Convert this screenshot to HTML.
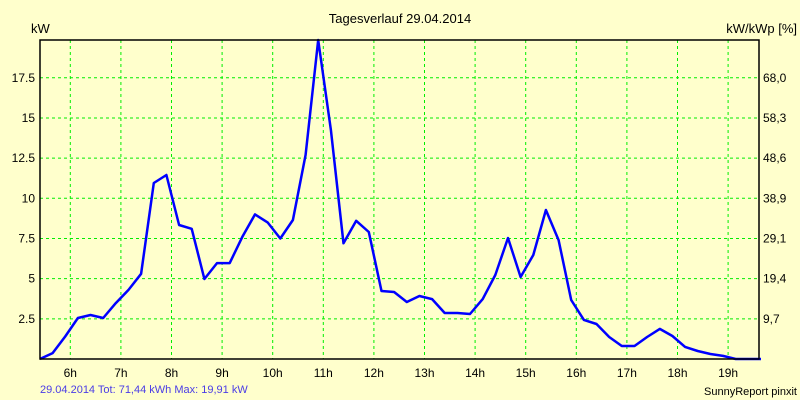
<!DOCTYPE html>
<html><head><meta charset="utf-8"><style>
body{margin:0;background:#ffffcc;}
svg{display:block;font-family:"Liberation Sans",Arial,sans-serif;}
</style></head><body>
<svg id="chart" width="800" height="400" viewBox="0 0 800 400">
<rect x="0" y="0" width="800" height="400" fill="#ffffcc"/>
<text x="400" y="23" text-anchor="middle" font-size="13" fill="#000">Tagesverlauf 29.04.2014</text>
<text x="31" y="33" font-size="13" fill="#000">kW</text>
<text x="797" y="33" text-anchor="end" font-size="13" fill="#000">kW/kWp [%]</text>
<g id="grid"></g>
<g id="series"></g>
<rect x="40" y="40" width="719" height="319" fill="none" stroke="#000" stroke-width="1.5"/>
<g id="labels"></g>
<text x="40" y="393" font-size="11" fill="#4a3ce6">29.04.2014 Tot: 71,44 kWh Max: 19,91 kW</text>
<text x="797" y="395" text-anchor="end" font-size="11" fill="#000">SunnyReport pinxit</text>
</svg>
<script>
const hourTicks = [6,7,8,9,10,11,12,13,14,15,16,17,18,19];
const yTicks = [2.5,5,7.5,10,12.5,15,17.5];
const yTickLabels = ["2.5","5","7.5","10","12.5","15","17.5"];
const y2TickLabels = ["9,7","19,4","29,1","38,9","48,6","58,3","68,0"];
const startHour = 5.4;
const stepHours = 0.25;
const power = [0,0.37,1.4,2.55,2.74,2.55,3.48,4.3,5.3,10.95,
11.45,8.34,8.1,4.98,5.97,5.97,7.6,9.0,8.5,7.5,
8.65,12.7,19.85,14.25,7.2,8.6,7.9,4.23,4.17,3.55,
3.92,3.73,2.86,2.86,2.8,3.73,5.23,7.53,5.1,6.47,
9.27,7.4,3.67,2.43,2.18,1.37,0.81,0.81,1.37,1.87,
1.43,0.75,0.5,0.31,0.19,0,0,0];
const NS="http://www.w3.org/2000/svg";
const xS = h => 70.3 + (h-6)*50.6;
const yS = v => 359 - v*16.07;
const grid=document.getElementById('grid'), labels=document.getElementById('labels'), series=document.getElementById('series');
function mk(tag, attrs, parent){const e=document.createElementNS(NS,tag);for(const k in attrs)e.setAttribute(k,attrs[k]);parent.appendChild(e);return e;}
hourTicks.forEach(h=>{
  const x=xS(h);
  const l=mk('line',{x1:x,x2:x,y1:40,y2:359,stroke:'#00ee00','stroke-dasharray':'3,3','stroke-width':1},grid);
  
  
  const t=mk('text',{x:x,y:377,'text-anchor':'middle','font-size':12,fill:'#000'},labels);
  t.textContent=h+'h';
  
  
});
yTicks.forEach((v,i)=>{
  const y=yS(v);
  const l=mk('line',{x1:40,x2:759,y1:y,y2:y,stroke:'#00ee00','stroke-dasharray':'3,3','stroke-width':1},grid);
  
  
  const t=mk('text',{x:35,y:y+4,'text-anchor':'end','font-size':12,fill:'#000'},labels);
  t.textContent=yTickLabels[i];
  
  
  const t2=mk('text',{x:763,y:y+4,'font-size':12,fill:'#000'},labels);
  t2.textContent=y2TickLabels[i];
  
  
});
const pts=power.map((v,i)=>xS(startHour+i*stepHours).toFixed(1)+','+yS(v).toFixed(1)).join(' ');
const pl=mk('polyline',{points:pts,fill:'none',stroke:'#0000ff','stroke-width':2.5,'stroke-linejoin':'round'},series);


</script>
</body></html>
